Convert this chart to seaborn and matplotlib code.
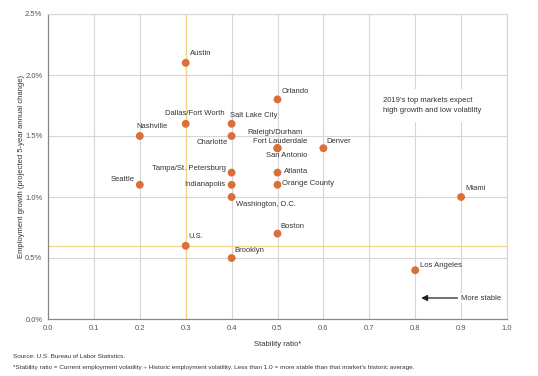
import matplotlib
matplotlib.use("Agg")
import matplotlib.pyplot as plt
import seaborn as sns
import pandas as pd
from matplotlib.ticker import FuncFormatter

# Data
markets = ["Austin", "Orlando", "Dallas/Fort Worth", "Salt Lake City", "Nashville",
           "Charlotte", "Raleigh/Durham", "Fort Lauderdale", "San Antonio", "Denver",
           "Tampa/St. Petersburg", "Atlanta", "Seattle", "Indianapolis", "Orange County",
           "Washington, D.C.", "Miami", "Boston", "U.S.", "Brooklyn", "Los Angeles"]
stability = [0.3, 0.5, 0.3, 0.4, 0.2,
             0.4, 0.5, 0.5, 0.5, 0.6,
             0.4, 0.5, 0.2, 0.4, 0.5,
             0.4, 0.9, 0.5, 0.3, 0.4, 0.8]
growth = [2.1, 1.8, 1.6, 1.6, 1.5,
          1.5, 1.4, 1.4, 1.4, 1.4,
          1.2, 1.2, 1.1, 1.1, 1.1,
          1.0, 1.0, 0.7, 0.6, 0.5, 0.4]
us_stability = 0.3
us_growth = 0.6

df = pd.DataFrame({"market": markets, "stability": stability, "growth": growth})

# label placement (pixel offsets from the point, alignment)
label_pos = {
    "Austin": (4, 9, "left"), "Orlando": (4, 8, "left"),
    "Dallas/Fort Worth": (9, 10, "center"), "Salt Lake City": (-2, 8, "left"),
    "Nashville": (-3, 9, "left"), "Charlotte": (-4, -7, "right"),
    "Raleigh/Durham": (-2, 16, "center"), "Fort Lauderdale": (3, 7, "center"),
    "San Antonio": (9, -7, "center"), "Denver": (3, 7, "left"),
    "Tampa/St. Petersburg": (-6, 4, "right"), "Atlanta": (6, 1, "left"),
    "Seattle": (-5, 5, "right"), "Indianapolis": (-6, 0, "right"),
    "Orange County": (5, 1, "left"), "Washington, D.C.": (4, -7, "left"),
    "Miami": (4, 8, "left"), "Boston": (3, 7, "left"), "U.S.": (3, 9, "left"),
    "Brooklyn": (3, 7, "left"), "Los Angeles": (5, 5, "left"),
}

sns.set_style("whitegrid")
plt.rcParams["font.family"] = ["Liberation Sans", "DejaVu Sans"]

fig = plt.figure(figsize=(5.38, 3.76), dpi=100)
ax = fig.add_axes([48 / 538, 1 - 319 / 376, 459 / 538, 305 / 376])

grid_c = "#d6d6d6"
ax.grid(True, color=grid_c, linewidth=0.8)
ax.axvline(us_stability, color="#f5d48c", linewidth=0.9, zorder=1.5)
ax.axhline(us_growth, color="#f5d48c", linewidth=0.9, zorder=1.5)

sns.scatterplot(data=df, x="stability", y="growth", ax=ax, color="#d9703a",
                s=32, edgecolor="none", zorder=3, legend=False)

for m, x, y in zip(markets, stability, growth):
    dx, dy, ha = label_pos[m]
    ax.annotate(m, (x, y), xytext=(dx, dy), textcoords="offset pixels",
                ha=ha, va="center", fontsize=5.5, color="#333333", zorder=4)

ax.text(0.73, 1.75, "2019\u2019s top markets expect\nhigh growth and low volatility",
        fontsize=5.5, color="#333333", va="center", ha="left", linespacing=1.45,
        bbox=dict(facecolor="white", edgecolor="none", pad=6), zorder=2)

ax.annotate("", xy=(0.813, 0.172), xytext=(0.892, 0.172),
            arrowprops=dict(arrowstyle="-|>", color="#222222", lw=0.9,
                            mutation_scale=9, shrinkA=0, shrinkB=0))
ax.text(0.9, 0.172, "More stable", fontsize=5.5, color="#333333", va="center", ha="left",
        bbox=dict(facecolor="white", edgecolor="none", pad=1))

ax.set_xlim(0, 1.0)
ax.set_ylim(0, 2.5)
ax.set_xticks([i / 10 for i in range(11)])
ax.set_yticks([0, 0.5, 1.0, 1.5, 2.0, 2.5])
ax.xaxis.set_major_formatter(FuncFormatter(lambda v, p: f"{v:.1f}"))
ax.yaxis.set_major_formatter(FuncFormatter(lambda v, p: f"{v:.1f}%"))
ax.tick_params(length=0, labelsize=5.5, labelcolor="#555555", pad=4)

for side in ["top", "right"]:
    ax.spines[side].set_color(grid_c)
    ax.spines[side].set_linewidth(0.8)
for side in ["left", "bottom"]:
    ax.spines[side].set_color("#888888")
    ax.spines[side].set_linewidth(0.9)

ax.set_xlabel("Stability ratio*", fontsize=5.5, color="#333333", labelpad=7)
ax.set_ylabel("Employment growth (projected 5-year annual change)", fontsize=5.5,
              color="#333333", labelpad=0)

fig.text(13 / 538, 1 - 356 / 376, "Source: U.S. Bureau of Labor Statistics.",
         fontsize=4.6, color="#333333", va="center")
fig.text(13 / 538, 1 - 368 / 376,
         "*Stability ratio = Current employment volatility \u00f7 Historic employment volatility. "
         "Less than 1.0 = more stable than that market\u2019s historic average.",
         fontsize=4.6, color="#333333", va="center")

fig.savefig("out.png", dpi=100)
